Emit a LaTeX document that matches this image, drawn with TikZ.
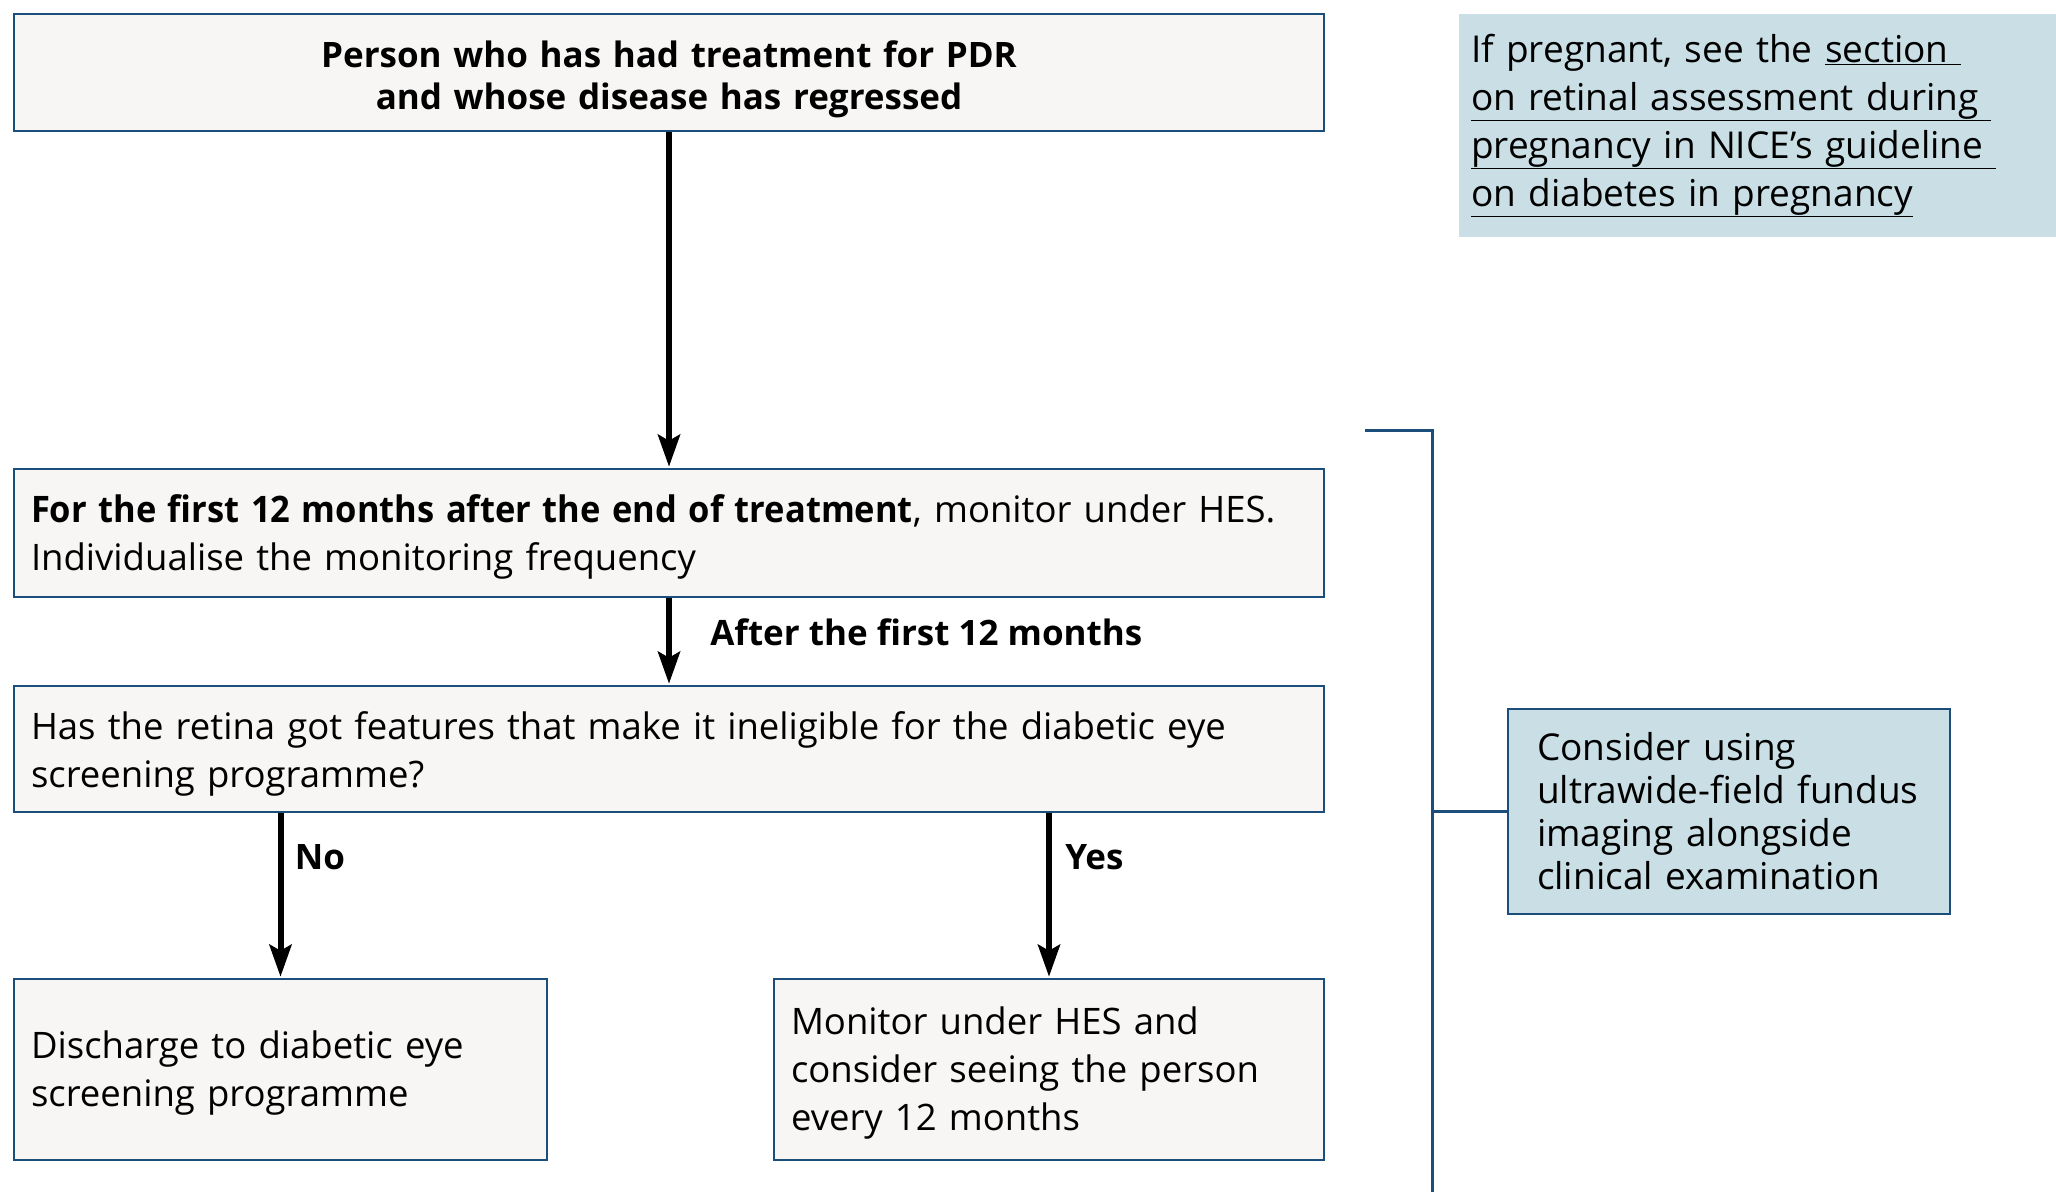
\documentclass[tikz,border=0pt]{standalone}
\usepackage{fontspec}
\setmainfont{Open Sans}
\usetikzlibrary{arrows.meta}
\definecolor{boxfill}{HTML}{F7F6F4}
\definecolor{boxline}{HTML}{1B4E7A}
\definecolor{notefill}{HTML}{C9DFE5}
\tikzset{
  flowbox/.style={draw=boxline, line width=2.5pt, fill=boxfill, inner sep=0pt},
  flowtext/.style={inner sep=0pt, font=\fontsize{36.5}{48}\selectfont, align=left},
  notebox/.style={fill=notefill, inner xsep=12pt, inner ysep=0pt, font=\fontsize{37}{48}\selectfont, align=left},
  flowarrow/.style={line width=6pt, -{Stealth[length=32pt,width=22pt,inset=6pt]}, shorten >=1pt},
  arrowlabel/.style={font=\fontsize{35}{40}\selectfont\bfseries},
  bracket/.style={draw=boxline, line width=3pt}
}
\begin{document}
\begin{tikzpicture}[x=1pt,y=-1pt]
\useasboundingbox (0,0) rectangle (2056,1192);
% boxes
\node[flowbox, minimum width=1310pt, minimum height=117pt] (b1) at (669,72.5) {};
\node[flowbox, minimum width=1310pt, minimum height=128pt] (b2) at (669,533) {};
\node[flowbox, minimum width=1310pt, minimum height=126pt] (b3) at (669,749) {};
\node[flowbox, minimum width=533pt, minimum height=181pt] (b4) at (280.5,1069.5) {};
\node[flowbox, minimum width=550pt, minimum height=181pt] (b5) at (1049,1069.5) {};
% texts
\node[flowtext, text width=1276pt, align=center, font=\fontsize{35}{42}\selectfont\bfseries] (t1) at ([yshift=-6.5pt]b1.center) {Person who has had treatment for PDR\\and whose disease has regressed};
\node[flowtext, text width=1276pt] (t2) at ([yshift=-4pt]b2.center) {\mbox{\scalebox{0.945}[1]{\textbf{For the first 12 months after the end of treatment}}, monitor under HES.}\\Individualise the monitoring frequency};
\node[flowtext, text width=1276pt] (t3) at ([yshift=-5pt]b3.center) {Has the retina got features that make it ineligible for the diabetic eye\\screening programme?};
\node[flowtext, text width=499pt] (t4) at ([yshift=-4pt]b4.center) {Discharge to diabetic eye\\screening programme};
\node[flowtext, text width=516pt] (t5) at ([yshift=-4pt]b5.center) {Monitor under HES and\\consider seeing the person\\every 12 months};
\node[notebox, minimum width=597pt, minimum height=223pt, text width=573pt] (preg) at (1757.5,125.5) {If pregnant, see the \underline{section\ }\\\underline{on retinal assessment during\ }\\\underline{pregnancy in NICE’s guideline\ }\\\underline{on diabetes in pregnancy}};
\node[flowbox, fill=notefill, inner xsep=29pt, minimum width=442pt, minimum height=205pt, text width=384pt, align=left, font=\fontsize{37}{43}\selectfont] (cons) at (1729,811.5) {Consider using\\ultrawide-field fundus\\imaging alongside\\clinical examination};
% connectors
\draw[flowarrow] (b1.south) -- (b2.north);
\draw[flowarrow] (b2.south) -- node[right, xshift=35pt, yshift=9pt, arrowlabel] (l1) {After the first 12 months} (b3.north);
\draw[flowarrow] (b3.south -| b4.north) -- node[pos=0.3, right, xshift=8pt, yshift=5pt, arrowlabel] (l2) {No} (b4.north);
\draw[flowarrow] (b3.south -| b5.north) -- node[pos=0.3, right, xshift=10pt, yshift=5pt, arrowlabel] (l3) {Yes} (b5.north);
\coordinate (bt) at (1365,430);
\coordinate (bc) at (1432,430);
\coordinate (bb) at (1432,1192);
\draw[bracket] (bt) -- (bc) -- (bb);
\draw[bracket] (bc |- cons.west) -- (cons.west);
\end{tikzpicture}
\end{document}
